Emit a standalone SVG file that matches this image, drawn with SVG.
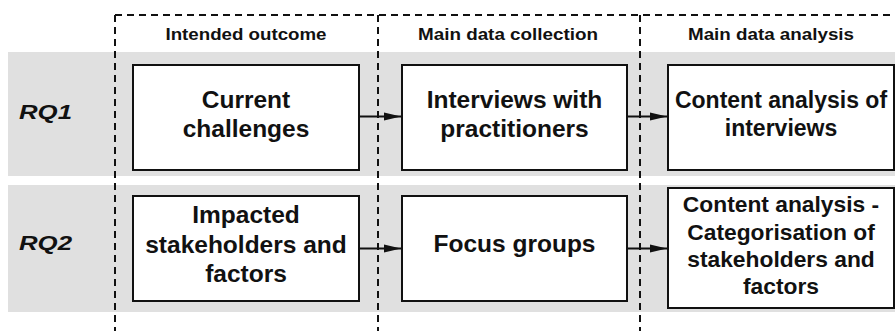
<svg xmlns="http://www.w3.org/2000/svg" width="895" height="331" viewBox="0 0 895 331">
<defs>
<style>
.band{fill:#e0e0e0;}
.dash{stroke:#111;stroke-width:2;stroke-dasharray:7 5;fill:none;}
.box{fill:#fff;stroke:#111;stroke-width:2;}
.hdr{font-family:"Liberation Sans",Arial,sans-serif;font-weight:bold;font-size:16px;fill:#111;text-anchor:middle;}
.rq{font-family:"Liberation Sans",Arial,sans-serif;font-weight:bold;font-style:italic;font-size:20px;fill:#111;}
.lbl{font-family:"Liberation Sans",Arial,sans-serif;font-weight:bold;font-size:24.5px;fill:#111;text-anchor:middle;}
.sm{font-size:22.8px;}
.conn{stroke:#111;stroke-width:1.8;fill:none;marker-end:url(#ah);}
</style>
<marker id="ah" markerWidth="17" markerHeight="10" refX="17" refY="5" orient="auto" markerUnits="userSpaceOnUse">
<path d="M0,1 L17,5 L0,9 Z" fill="#111"/>
</marker>
</defs>
<rect width="895" height="331" fill="#fff"/>
<g id="bands">
<rect class="band" x="8" y="52" width="887" height="124"/>
<rect class="band" x="8" y="185" width="887" height="127"/>
</g>
<g id="frame">
<path class="dash" d="M115,15 H895"/>
<path class="dash" d="M115,15 V331"/>
<path class="dash" d="M378,15 V331"/>
<path class="dash" d="M640,15 V331"/>
</g>
<g id="headers">
<text class="hdr" x="246" y="40" textLength="161" lengthAdjust="spacingAndGlyphs">Intended outcome</text>
<text class="hdr" x="508" y="40" textLength="180" lengthAdjust="spacingAndGlyphs">Main data collection</text>
<text class="hdr" x="771" y="40" textLength="166" lengthAdjust="spacingAndGlyphs">Main data analysis</text>
</g>
<g id="rq1"><text class="rq" x="19" y="119" textLength="53" lengthAdjust="spacingAndGlyphs">RQ1</text></g>
<g id="rq2"><text class="rq" x="19" y="250" textLength="53" lengthAdjust="spacingAndGlyphs">RQ2</text></g>
<g id="n-current">
<rect class="box" x="133" y="65" width="226" height="105"/>
<text class="lbl" x="246" y="108">Current</text>
<text class="lbl" x="246" y="137">challenges</text>
</g>
<g id="n-interviews">
<rect class="box" x="402" y="65" width="225" height="105"/>
<text class="lbl" x="514.5" y="107.5">Interviews with</text>
<text class="lbl" x="514.5" y="136.5">practitioners</text>
</g>
<g id="n-content1">
<rect class="box" x="668" y="65" width="226" height="105"/>
<text class="lbl" x="781" y="108" style="font-size:23px">Content analysis of</text>
<text class="lbl" x="781" y="136" style="font-size:23px">interviews</text>
</g>
<g id="n-impacted">
<rect class="box" x="133" y="196" width="226" height="105"/>
<text class="lbl" x="246" y="223">Impacted</text>
<text class="lbl" x="246" y="253">stakeholders and</text>
<text class="lbl" x="246" y="282">factors</text>
</g>
<g id="n-focus">
<rect class="box" x="402" y="196" width="225" height="105"/>
<text class="lbl" x="514.5" y="252">Focus groups</text>
</g>
<g id="n-content2">
<rect class="box" x="668" y="188" width="226" height="120"/>
<text class="lbl sm" x="781" y="212">Content analysis -</text>
<text class="lbl sm" x="781" y="239.5">Categorisation of</text>
<text class="lbl sm" x="781" y="267">stakeholders and</text>
<text class="lbl sm" x="781" y="294">factors</text>
</g>
<g id="connectors">
<path class="conn" d="M359,116.5 H401"/>
<path class="conn" d="M627,116.5 H667"/>
<path class="conn" d="M359,248.5 H401"/>
<path class="conn" d="M627,248.5 H667"/>
</g>
</svg>
